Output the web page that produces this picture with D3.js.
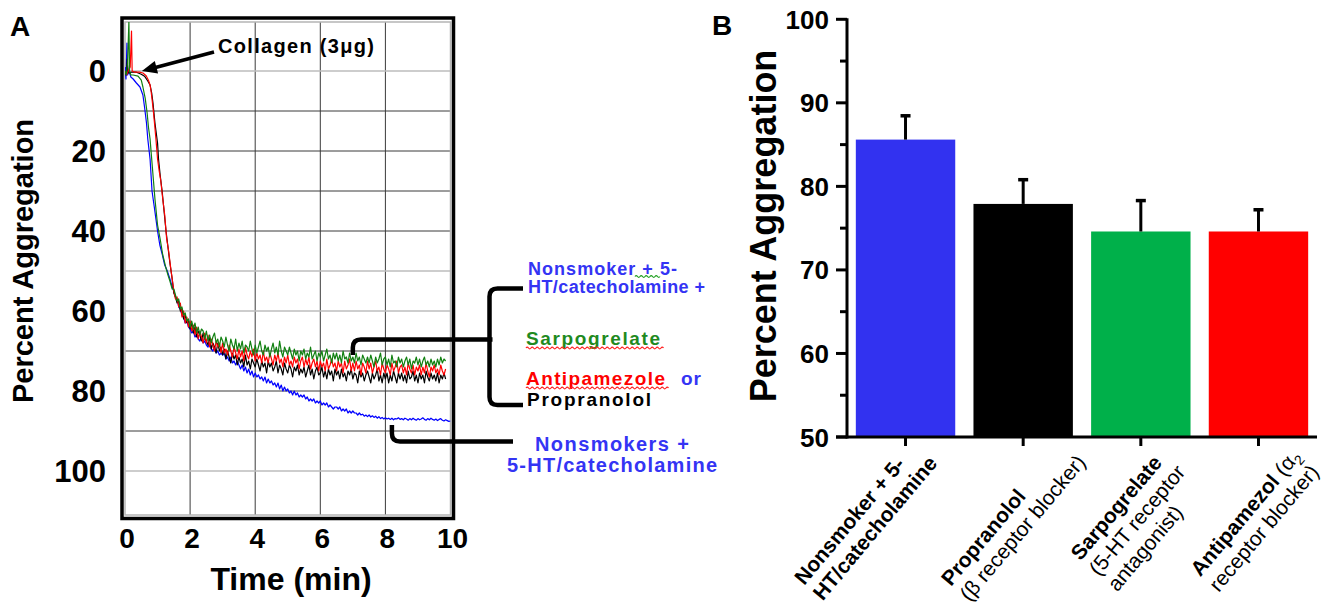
<!DOCTYPE html>
<html><head><meta charset="utf-8">
<script src="https://cdn.jsdelivr.net/npm/d3@7"></script>
<style>
body{margin:0;background:#fff;}
svg{display:block;font-family:"Liberation Sans",Arial,Helvetica,sans-serif;}
</style></head><body>
<svg id="chart" width="1323" height="604"></svg>
<script>
// ================= Panel A data =================
const timeTicks = [0, 2, 4, 6, 8, 10];
const aggTicks = [0, 20, 40, 60, 80, 100];
const gridDark = [10, 20, 30, 40, 70, 80, 90];
const gridLight = [0, 50, 60, 100];

// early part of each trace: [time (min), percent aggregation]
const earlyBlue = [[0,-1],[0.03,2],[0.06,-7],[0.08,1],[0.12,0],[0.18,1.5],[0.25,2],[0.35,3],[0.46,4],[0.55,6],[0.6,9],[0.66,13],[0.7,17],[0.77,22],[0.83,30],[0.9,34],[0.95,37],[1.0,40],[1.07,43.5],[1.15,46],[1.22,48.5],[1.3,50],[1.38,52],[1.45,54]];
const earlyGreen = [[0,0],[0.04,1],[0.08,-2],[0.12,-12.5],[0.14,0],[0.18,1],[0.25,1],[0.4,1.3],[0.5,2.3],[0.55,4],[0.62,6.8],[0.68,10.5],[0.72,14],[0.77,17],[0.8,20],[0.86,26],[0.92,32],[1.0,38.5],[1.08,42],[1.16,46],[1.25,49],[1.32,51],[1.38,52.5],[1.45,54.5]];
const earlyRed = [[0,0],[0.05,1],[0.1,0],[0.16,-1],[0.2,-10],[0.22,0],[0.3,0.3],[0.45,0.3],[0.55,0.5],[0.65,1.2],[0.72,2.3],[0.77,3.5],[0.8,5],[0.83,7],[0.87,10],[0.9,12.5],[0.95,17],[1.0,22],[1.05,25],[1.1,27.5],[1.16,32],[1.22,36],[1.28,42],[1.34,45],[1.4,49],[1.45,52]];
const earlyBlack = [[0,0],[0.04,1],[0.07,-3],[0.1,0.5],[0.2,0.3],[0.35,0.3],[0.5,0.8],[0.6,1.3],[0.7,2.5],[0.77,3.5],[0.82,5.5],[0.86,8],[0.92,13],[1.0,18],[1.03,22],[1.08,26],[1.14,30],[1.2,35],[1.26,40],[1.32,44],[1.38,48],[1.45,52]];

// later part, sampled every 0.05 min starting at 1.5 min
const lateStart = 1.5, lateStep = 0.05;
const lateBlue = [
55,56.5,57,59,59.5,61,61.5,63,62.5,64,
64.5,65.5,65,66.5,66,67,67.5,66.5,68,67.5,
68.5,69,68,69.5,70,69,70.5,70,71,70.5,
71,70.5,72,71.5,72.5,71.5,73,72.5,73.5,72.5,
73.5,74.5,73.5,75,74,75.5,74.5,76,75,76.5,
75.5,76.5,76,77,76.5,77.5,76.5,78,77,78,
77.5,78.5,78,79,78,79.5,78.5,80,79,80,
79.5,80.5,80,81,80,81,80.5,81.5,81,81.5,
81,82,81.5,82.5,82,82.5,82,83,82.5,83,
82.5,83.5,83,83.5,83,84,83.5,84,84.5,84,
84,84.5,84,85,84.5,85,84.5,85.5,85,85.5,
85,85.5,85.5,86,85.5,86,85.8,86.3,86,86.4,
86,86.5,86.2,86.6,86.3,86.8,86.4,86.9,86.6,87,
86.7,87,86.8,87.1,86.8,87.2,86.9,87,86.7,87.1,
86.9,87.2,86.8,87,87.3,86.9,87.2,86.8,87.1,87.3,
86.9,87.2,87,86.7,87.1,87.3,86.9,87.2,86.8,87.1,
87.3,87,87.4,87.1,86.9,87.3,87.5,87.2,87.4,87.6,87.5];
const lateGreen = [
54.5,56,57.5,57,59.5,59,61,60.5,62.5,62,
64,62.5,64.5,63,65.5,64,66,64.5,65,67,
65,67.5,66,68,66.5,65.5,68,67,69,66.5,
67.5,69,66.5,68.5,70,67,68.5,69.5,67,70,
68,69.5,67.5,70.5,68.5,69,70,67.5,69.5,71,
68.5,70.5,69,67.5,70,71,68.5,70,69,71.5,
69.5,68,70.5,69,71,67.5,70,71.5,69,70,
71,69,70.5,72,69.5,71,70,72.5,70,71,
69.5,72,70.5,71.5,69,72,71,70,72.5,70.5,
71.5,70,72.5,71,69.5,72,71,73,70.5,72,
70.5,72.5,71,73,70,72,71.5,73,70.5,72.5,
71.5,73,70.5,72.5,71.5,73.5,71,72,73,71.5,
73,71,72.5,74,71.5,73,72,70.5,73.5,72,
71.5,73.5,72,74,71,73,72.5,74,71.5,73,
72,74,72.5,71.5,73.5,72,74.5,72.5,73,71.5,
73.5,72,74,72.5,71.5,73.5,72.5,74,72,73.5,
72.5,74,72,73.5,71.5,73,72,72.5];
const lateRed = [
55,57,56.5,59,58,61.5,60,63,61.5,64,
62.5,65,63.5,66,64,67,65,66.5,68,65.5,
68,66,69,67,68.5,70,67.5,69,68,70.5,
68,70.5,69.5,71,68.5,70,71.5,69,70.5,72,
69.5,71.5,70,72.5,69,71,72,70,71.5,69.5,
72.5,70.5,72,71,73,70,72.5,71.5,73,70.5,
72,73.5,71,72.5,70.5,73,72,74,71.5,73,
71,73.5,72.5,74,71.5,73,72,74.5,72.5,71.5,
74,72,73.5,71.5,74.5,73,72,74,72.5,75,
72.5,74,73,75,72,74.5,73.5,72,74,73,
75,72.5,74,73,75.5,72.5,74.5,73.5,72,75,
73,75,72.5,74.5,73.5,76,73,74,75.5,72.5,
74.5,73,75.5,74,72.5,75,74,76,73,74.5,
75.5,73.5,74.5,76,73,75,74,72.5,75.5,74,
73.5,75.5,74,76,73,74.5,75.5,73.5,76,74,
75,73.5,76,74,75.5,73,75,76.5,74,75,
73.5,75.5,74.5,76,73.5,75,76,74.5];
const lateBlack = [
55.5,56.5,58,57.5,60,59.5,62,61,63,62.5,
64.5,63,65.5,64,66.5,65,66,67.5,65.5,67,
67.5,68.5,66.5,69.5,68,69,70.5,68,70,69,
71,69.5,72,70,71.5,73,70.5,72,71,73.5,
71.5,73,72,74,71,73.5,72.5,74.5,72,73,
74,72,73.5,75,72.5,74,73,75.5,72.5,74,
73,75,74,72.5,75.5,73.5,74.5,76,73,74.5,
75.5,73.5,74.5,76.5,74,75,73.5,76,74.5,75.5,
74,76.5,75,73.5,76,74.5,77,75,74,76,
75.5,74,76.5,75,77,74.5,76,75,77.5,74.5,
76,75,77,74.5,76.5,75.5,77.5,75,76,74.5,
77,75.5,76,78,75,76.5,75.5,77.5,76,75,
76.5,78,75.5,77,76,74.5,77.5,76,78,75.5,
77,75.5,78,76,77.5,75,76.5,78,75.5,77,
75.5,77.5,76,78,75,77,76.5,75,77.5,76,
78,75.5,77,76,78,75,76.5,77.5,75.5,77,
76,77.5,75.5,78,76,77,75.5,77];

// ================= Panel B data =================
const groups = ["Nonsmoker + 5-HT/catecholamine", "Propranolol", "Sarpogrelate", "Antipamezol"];
const meanAgg = [85.6, 77.9, 74.6, 74.6];
const semAgg = [2.85, 2.9, 3.7, 2.6];
const bTicks = [50, 60, 70, 80, 90, 100];
const bMinorTicks = [55, 65, 75, 85, 95];
const groupLabelLines = [
  [[["Nonsmoker + 5-", "b"]], [["HT/catecholamine", "b"]]],
  [[["Propranolol", "b"]], [["(β receptor blocker)", "n"]]],
  [[["Sarpogrelate", "b"]], [["(5-HT receptor", "n"]], [["antagonist)", "n"]]],
  [[["Antipamezol", "b"], [" (α", "n"], ["2", "sub"]], [["receptor blocker)", "n"]]]
];
// horizontal nudge of each rotated label block (layout only)
const labelNudge = [-40, -10, -4, -4];

// ================= drawing =================
const svg = d3.select("#chart");
const BLUE_TXT = "#3434f4", GREEN_TXT = "#1f8a1f";

// ---------- Panel A ----------
const xA = d3.scaleLinear().domain([0, 10]).range([125, 450.5]);
const yA = d3.scaleLinear().domain([-12.25, 111]).range([22, 515]);
const gA = svg.append("g");

svg.append("defs").append("clipPath").attr("id", "clipA")
  .append("rect").attr("x", xA(0)).attr("y", yA(-12.25))
  .attr("width", xA(10) - xA(0)).attr("height", yA(111) - yA(-12.25));

// grid
gA.selectAll(".gv").data(timeTicks.slice(1, -1)).join("line")
  .attr("x1", d => xA(d)).attr("x2", d => xA(d))
  .attr("y1", yA(-12.25)).attr("y2", yA(111))
  .attr("stroke", "#3a3a3a").attr("stroke-width", 1);
gA.selectAll(".gd").data(gridDark).join("line")
  .attr("x1", xA(0)).attr("x2", xA(10))
  .attr("y1", d => yA(d)).attr("y2", d => yA(d))
  .attr("stroke", "#3a3a3a").attr("stroke-width", 1);
gA.selectAll(".gl").data(gridLight).join("line")
  .attr("x1", xA(0)).attr("x2", xA(10))
  .attr("y1", d => yA(d)).attr("y2", d => yA(d))
  .attr("stroke", "#bdbdbd").attr("stroke-width", 1.5);

// inner light frame
gA.append("rect").attr("x", xA(0)).attr("y", yA(-12.25))
  .attr("width", xA(10) - xA(0)).attr("height", yA(111) - yA(-12.25))
  .attr("fill", "none").attr("stroke", "#b5b5b5").attr("stroke-width", 1.5);

// traces
function buildTrace(early, late) {
  return early.concat(late.map((v, i) => [lateStart + i * lateStep, v]));
}
const traces = [
  {color: "#0000ff", pts: buildTrace(earlyBlue, lateBlue)},
  {color: "#000000", pts: buildTrace(earlyBlack, lateBlack)},
  {color: "#ff0000", pts: buildTrace(earlyRed, lateRed)},
  {color: "#118011", pts: buildTrace(earlyGreen, lateGreen)}
];
const lineA = d3.line().x(d => xA(d[0])).y(d => yA(d[1]));
gA.append("g").attr("clip-path", "url(#clipA)")
  .selectAll("path").data(traces).join("path")
  .attr("d", d => lineA(d.pts))
  .attr("fill", "none").attr("stroke", d => d.color)
  .attr("stroke-width", 1.2).attr("stroke-linejoin", "round");

// outer thick frame
gA.append("rect").attr("x", 122).attr("y", 18).attr("width", 331.5).attr("height", 500.5)
  .attr("fill", "none").attr("stroke", "#000").attr("stroke-width", 3.5);

// tick labels
gA.selectAll(".yt").data(aggTicks).join("text")
  .attr("x", 106).attr("y", d => yA(d) + 11)
  .attr("text-anchor", "end").attr("font-size", 31).attr("font-weight", "bold")
  .text(d => d);
gA.selectAll(".xt").data(timeTicks).join("text")
  .attr("x", d => xA(d) + 2).attr("y", 548)
  .attr("text-anchor", "middle").attr("font-size", 28).attr("font-weight", "bold")
  .text(d => d);

// axis titles
gA.append("text").attr("x", 291).attr("y", 590).attr("text-anchor", "middle")
  .attr("font-size", 32).attr("font-weight", "bold").text("Time (min)");
gA.append("text").attr("transform", "translate(33,261) rotate(-90)")
  .attr("text-anchor", "middle").attr("font-size", 29).attr("font-weight", "bold")
  .text("Percent Aggregation");
svg.append("text").attr("x", 10).attr("y", 36).attr("font-size", 28).attr("font-weight", "bold").text("A");

// collagen annotation
gA.append("text").attr("x", 218).attr("y", 53).attr("font-size", 20).attr("font-weight", "bold")
  .attr("textLength", 156).attr("lengthAdjust", "spacing").text("Collagen (3μg)");
(function arrow() {
  const sx = 214, sy = 52, tx = xA(0.52), ty = yA(0);
  const dx = tx - sx, dy = ty - sy, L = Math.hypot(dx, dy), ux = dx / L, uy = dy / L;
  const hl = 15, hw = 6.5;
  const bx = tx - ux * hl, by = ty - uy * hl;
  gA.append("line").attr("x1", sx).attr("y1", sy).attr("x2", bx + ux * 2).attr("y2", by + uy * 2)
    .attr("stroke", "#000").attr("stroke-width", 3.5);
  gA.append("path").attr("d", `M${tx},${ty} L${bx - uy * hw},${by + ux * hw} L${bx + uy * hw},${by - ux * hw} Z`)
    .attr("fill", "#000");
})();

// brackets
const br = gA.append("g").attr("fill", "none").attr("stroke", "#000").attr("stroke-width", 4.5)
  .attr("stroke-linecap", "butt");
{
  const x0 = xA(7.0), y0 = yA(71), hy = 339.5, spineX = 489.5, topY = 288.5, botY = 405, stubX = 523, r = 8;
  br.append("path").attr("d", `M${x0},${y0} V${hy + r} Q${x0},${hy} ${x0 + r},${hy} H${spineX + 3}`);
  br.append("path").attr("d", `M${stubX},${topY} H${spineX + r} Q${spineX},${topY} ${spineX},${topY + r} V${botY - r} Q${spineX},${botY} ${spineX + r},${botY} H${stubX}`);
  const x1 = xA(8.2), y1 = yA(88.5), ly = 441.5;
  br.append("path").attr("d", `M${x1},${y1} V${ly - r} Q${x1},${ly} ${x1 + r},${ly} H513`);
}

// right-hand labels
function wavy(x0, x1, y, amp, per, color) {
  let p = `M${x0},${y}`, k = 0;
  for (let x = x0; x < x1; x += per / 2, k++) {
    const yy = (k % 2 === 0) ? y - amp * 2 : y + amp * 2;
    p += ` Q${x + per / 4},${yy} ${x + per / 2},${y}`;
  }
  gA.append("path").attr("d", p).attr("fill", "none").attr("stroke", color).attr("stroke-width", 1.2);
}
function lab(txt, x, y, len, size, color, anchor) {
  gA.append("text").attr("x", x).attr("y", y).attr("font-size", size).attr("font-weight", "bold")
    .attr("fill", color).attr("text-anchor", anchor || "start")
    .attr("textLength", len).attr("lengthAdjust", "spacing").text(txt);
}
lab("Nonsmoker + 5-", 528, 275, 149, 18, BLUE_TXT);
lab("HT/catecholamine +", 528, 293, 177, 18, BLUE_TXT);
lab("Sarpogrelate", 526, 345, 134, 19, GREEN_TXT);
lab("Antipamezole", 526, 385, 139, 19, "#ff0000");
lab("or", 681, 385, 20, 19, BLUE_TXT);
lab("Propranolol", 527, 405.5, 124, 19, "#000");
lab("Nonsmokers +", 612, 451, 154, 20, BLUE_TXT, "middle");
lab("5-HT/catecholamine", 612, 471.5, 210, 20, BLUE_TXT, "middle");
wavy(635, 660, 276.5, 0.9, 5, "#22a022");
wavy(526, 663, 348, 0.9, 5, "#ff2020");
wavy(526, 667, 388, 0.9, 5, "#ff2020");

// ---------- Panel B ----------
const gB = svg.append("g");
const xB = d3.scaleBand().domain(groups).range([847, 1317]).paddingInner(0.155).paddingOuter(0.075);
const yB = d3.scaleLinear().domain([50, 100]).range([437, 19.3]);
const barColors = ["#3232f0", "#000000", "#00b04a", "#ff0000"];

gB.selectAll(".bar").data(groups).join("rect")
  .attr("x", d => xB(d)).attr("width", xB.bandwidth())
  .attr("y", (d, i) => yB(meanAgg[i])).attr("height", (d, i) => yB(50) - yB(meanAgg[i]))
  .attr("fill", (d, i) => barColors[i]);

// error bars
gB.selectAll(".eb").data(groups).join("line")
  .attr("x1", d => xB(d) + xB.bandwidth() / 2).attr("x2", d => xB(d) + xB.bandwidth() / 2)
  .attr("y1", (d, i) => yB(meanAgg[i])).attr("y2", (d, i) => yB(meanAgg[i] + semAgg[i]))
  .attr("stroke", "#000").attr("stroke-width", 3);
gB.selectAll(".ec").data(groups).join("line")
  .attr("x1", d => xB(d) + xB.bandwidth() / 2 - 5).attr("x2", d => xB(d) + xB.bandwidth() / 2 + 5)
  .attr("y1", (d, i) => yB(meanAgg[i] + semAgg[i])).attr("y2", (d, i) => yB(meanAgg[i] + semAgg[i]))
  .attr("stroke", "#000").attr("stroke-width", 3.5);

// axes
gB.append("line").attr("x1", 847).attr("x2", 847).attr("y1", yB(100) - 1).attr("y2", yB(50) + 1.5)
  .attr("stroke", "#000").attr("stroke-width", 3);
gB.append("line").attr("x1", 836).attr("x2", 1317).attr("y1", yB(50)).attr("y2", yB(50))
  .attr("stroke", "#000").attr("stroke-width", 3);
gB.selectAll(".ymaj").data(bTicks).join("line")
  .attr("x1", 836).attr("x2", 847).attr("y1", d => yB(d)).attr("y2", d => yB(d))
  .attr("stroke", "#000").attr("stroke-width", 3);
gB.selectAll(".ymin").data(bMinorTicks).join("line")
  .attr("x1", 840).attr("x2", 847).attr("y1", d => yB(d)).attr("y2", d => yB(d))
  .attr("stroke", "#000").attr("stroke-width", 3);
gB.selectAll(".xtk").data(groups).join("line")
  .attr("x1", d => xB(d) + xB.bandwidth() / 2).attr("x2", d => xB(d) + xB.bandwidth() / 2)
  .attr("y1", yB(50)).attr("y2", yB(50) + 9)
  .attr("stroke", "#000").attr("stroke-width", 3);
gB.selectAll(".ytl").data(bTicks).join("text")
  .attr("x", 829).attr("y", d => yB(d) + 9.5).attr("text-anchor", "end")
  .attr("font-size", 26).attr("font-weight", "bold").text(d => d);

gB.append("text").attr("transform", "translate(776,226) rotate(-90)")
  .attr("text-anchor", "middle").attr("font-size", 36).attr("font-weight", "bold")
  .text("Percent Aggregation");
svg.append("text").attr("x", 712).attr("y", 35).attr("font-size", 28).attr("font-weight", "bold").text("B");

// rotated category labels
groups.forEach((g, i) => {
  const cx = xB(g) + xB.bandwidth() / 2 + labelNudge[i];
  const outer = gB.append("g").attr("transform", `translate(${cx},520) rotate(-50)`);
  const inner = outer.append("g");
  groupLabelLines[i].forEach((line, li) => {
    const t = inner.append("text").attr("x", 0).attr("y", li * 24).attr("font-size", 21);
    line.forEach(([s, kind]) => {
      const ts = t.append("tspan").text(s);
      if (kind === "b") ts.attr("font-weight", "bold");
      if (kind === "sub") ts.attr("font-size", 14).attr("dy", 5);
    });
  });
  const bb = inner.node().getBBox();
  inner.attr("transform", `translate(${-bb.x - bb.width / 2},${-bb.y - bb.height / 2})`);
});
</script>
</body></html>
